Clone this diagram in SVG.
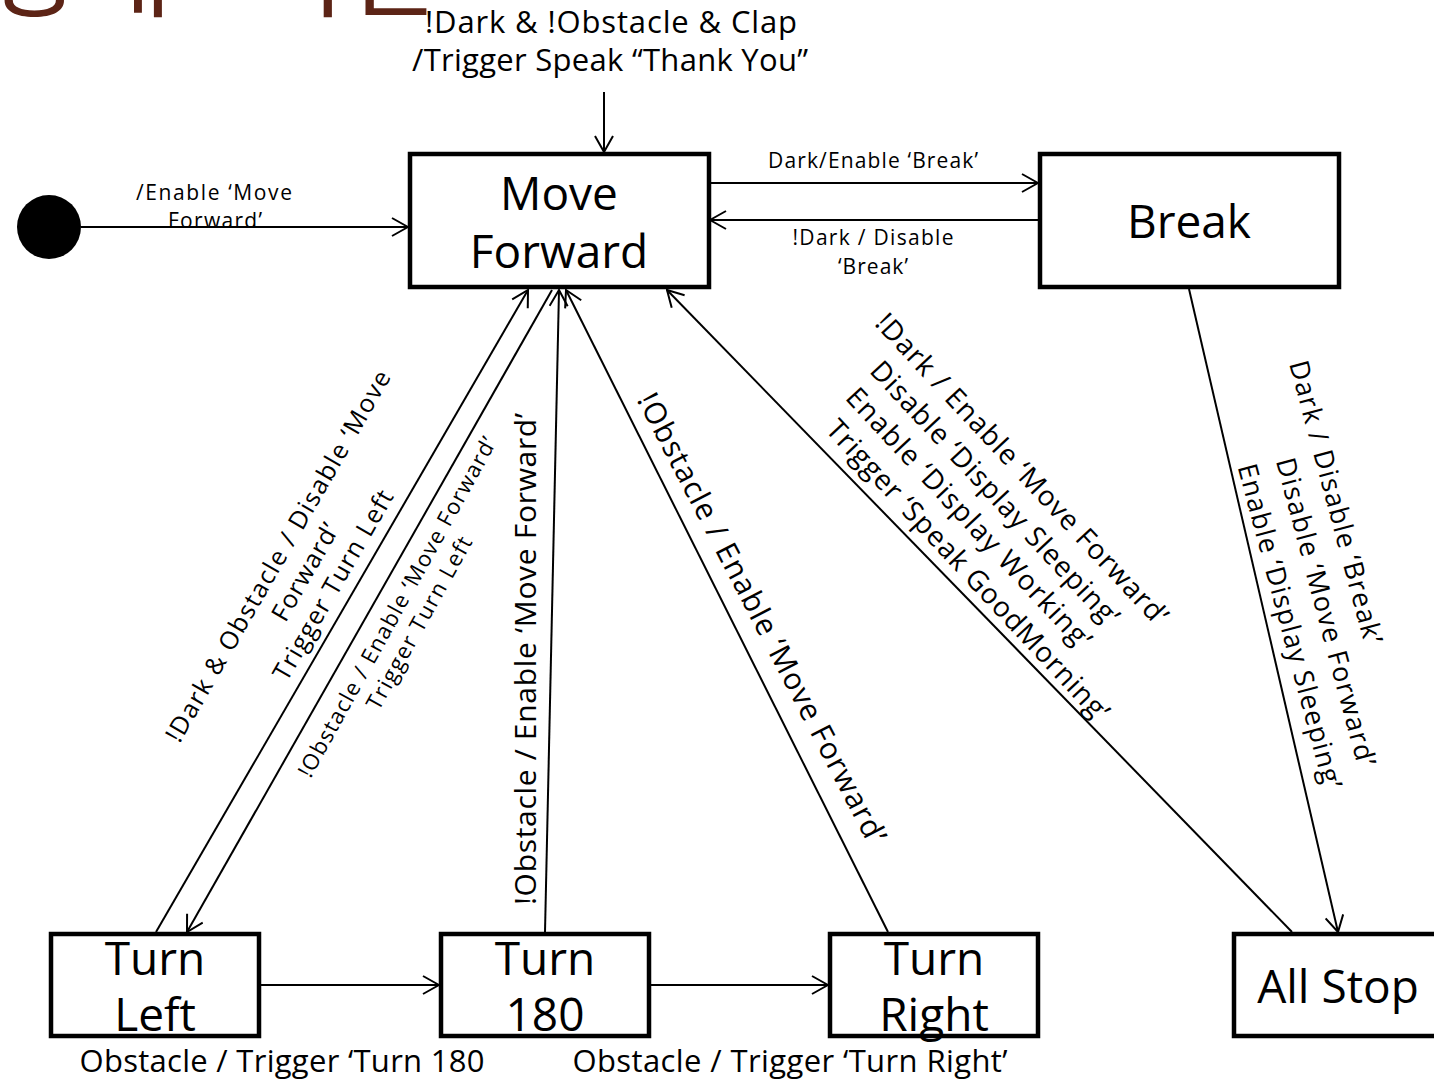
<svg xmlns="http://www.w3.org/2000/svg" width="1434" height="1082" viewBox="0 0 1434 1082">
  <style>
    text { font-family: "Open Sans", "Noto Sans", "Noto Sans CJK KR", sans-serif; fill: #000; }
    .title { font-family: "Noto Sans CJK KR", sans-serif; fill: #5c2416; font-size: 100px; word-spacing: 58px; }
    .node rect { fill: #fff; stroke: #000; stroke-width: 4.5; }
    .node text { font-size: 46px; text-anchor: middle; }
    .conn line { stroke: #000; stroke-width: 2; fill: none; marker-end: url(#arrow); }
    .big { font-size: 31px; text-anchor: middle; }
    .small { font-size: 21px; text-anchor: middle; }
    .rot { text-anchor: middle; }
  </style>
  <defs>
    <marker id="arrow" viewBox="0 0 18 20" refX="17" refY="10" markerWidth="18" markerHeight="20" markerUnits="userSpaceOnUse" orient="auto">
      <path d="M1,1 L17,10 L1,19" fill="none" stroke="#000" stroke-width="2"/>
    </marker>
  </defs>
  <rect width="1434" height="1082" fill="#fff"/>

  <!-- slide title, mostly above the top edge -->
  <text class="title" x="-12" y="9">상태 머신</text>

  <!-- transitions -->
  <g id="connectors" class="conn">
    <line x1="81" y1="227" x2="408" y2="227"/>
    <line x1="604" y1="92" x2="604" y2="152"/>
    <line x1="710" y1="183" x2="1038" y2="183"/>
    <line x1="1038" y1="220" x2="710" y2="220"/>
    <line x1="1189" y1="289" x2="1338" y2="932"/>
    <line x1="1292" y1="932" x2="667" y2="290"/>
    <line x1="888" y1="932" x2="566" y2="290"/>
    <line x1="545" y1="932" x2="559" y2="290"/>
    <line x1="156" y1="932" x2="528" y2="290"/>
    <line x1="552" y1="290" x2="187" y2="932"/>
    <line x1="261" y1="985" x2="439" y2="985"/>
    <line x1="650" y1="985" x2="828" y2="985"/>
  </g>

  <!-- states -->
  <g id="initial">
    <circle cx="49" cy="227" r="32" fill="#000"/>
  </g>
  <g id="move-forward" class="node">
    <rect x="410" y="154" width="299" height="133"/>
    <text x="559" y="210">Move</text>
    <text x="559" y="268">Forward</text>
  </g>
  <g id="break" class="node">
    <rect x="1040" y="154" width="299" height="133"/>
    <text x="1189" y="238">Break</text>
  </g>
  <g id="turn-left" class="node">
    <rect x="51" y="934" width="208" height="102"/>
    <text x="155" y="975">Turn</text>
    <text x="155" y="1031">Left</text>
  </g>
  <g id="turn-180" class="node">
    <rect x="441" y="934" width="208" height="102"/>
    <text x="545" y="975">Turn</text>
    <text x="545" y="1031">180</text>
  </g>
  <g id="turn-right" class="node">
    <rect x="830" y="934" width="208" height="102"/>
    <text x="934" y="975">Turn</text>
    <text x="934" y="1031">Right</text>
  </g>
  <g id="all-stop" class="node">
    <rect x="1234" y="934" width="210" height="102"/>
    <text x="1338" y="1003">All Stop</text>
  </g>

  <!-- transition labels -->
  <g id="labels">
    <text class="big" x="611" y="33" textLength="372">!Dark &amp; !Obstacle &amp; Clap</text>
    <text class="big" x="610" y="71" textLength="396">/Trigger Speak “Thank You”</text>

    <text class="small" x="214" y="200" textLength="156">/Enable ‘Move</text>
    <text class="small" x="215" y="228" textLength="94">Forward’</text>

    <text class="small" x="873" y="168" textLength="210">Dark/Enable ‘Break’</text>
    <text class="small" x="873" y="245" textLength="161">!Dark / Disable</text>
    <text class="small" x="873" y="274" textLength="70">‘Break’</text>

    <text class="big" x="282" y="1072" textLength="405">Obstacle / Trigger ‘Turn 180</text>
    <text class="big" x="790" y="1072" textLength="435">Obstacle / Trigger ‘Turn Right’</text>

    <!-- Turn Left -> Move Forward -->
    <g class="rot" font-size="25">
      <text transform="translate(278,556) rotate(-60)" dy="0.35em" textLength="424">!Dark &amp; Obstacle / Disable ‘Move</text>
      <text transform="translate(305,572) rotate(-60)" dy="0.35em" textLength="108">Forward’</text>
      <text transform="translate(333,585) rotate(-60)" dy="0.35em" textLength="215">Trigger Turn Left</text>
    </g>
    <!-- Move Forward -> Turn Left -->
    <g class="rot" font-size="22">
      <text transform="translate(397,607) rotate(-61)" dy="0.35em" textLength="385">!Obstacle / Enable ‘Move Forward’</text>
      <text transform="translate(419,623) rotate(-61)" dy="0.35em" textLength="194">Trigger Turn Left</text>
    </g>
    <!-- Turn 180 -> Move Forward -->
    <text class="rot" font-size="30" transform="translate(525,659) rotate(-90)" dy="0.35em" textLength="492">!Obstacle / Enable ‘Move Forward’</text>
    <!-- Turn Right -> Move Forward -->
    <text class="rot" font-size="30" transform="translate(762,618) rotate(62.5)" dy="0.35em" textLength="503">!Obstacle / Enable ‘Move Forward’</text>
    <!-- All Stop -> Move Forward -->
    <g class="rot" font-size="28">
      <text transform="translate(1022,469) rotate(47)" dy="0.35em" textLength="414">!Dark / Enable ‘Move Forward’</text>
      <text transform="translate(995,493) rotate(47)" dy="0.35em" textLength="350">Disable ‘Display Sleeping’</text>
      <text transform="translate(969,518) rotate(47)" dy="0.35em" textLength="345">Enable ‘Display Working’</text>
      <text transform="translate(968,570) rotate(47)" dy="0.35em" textLength="400">Trigger ‘Speak GoodMorning’</text>
    </g>
    <!-- Break -> All Stop -->
    <g class="rot" font-size="27">
      <text transform="translate(1336,502) rotate(75)" dy="0.35em" textLength="292">Dark / Disable ‘Break’</text>
      <text transform="translate(1326,612) rotate(75)" dy="0.35em" textLength="318">Disable ‘Move Forward’</text>
      <text transform="translate(1290,626) rotate(75)" dy="0.35em" textLength="335">Enable ‘Display Sleeping’</text>
    </g>
  </g>
</svg>
